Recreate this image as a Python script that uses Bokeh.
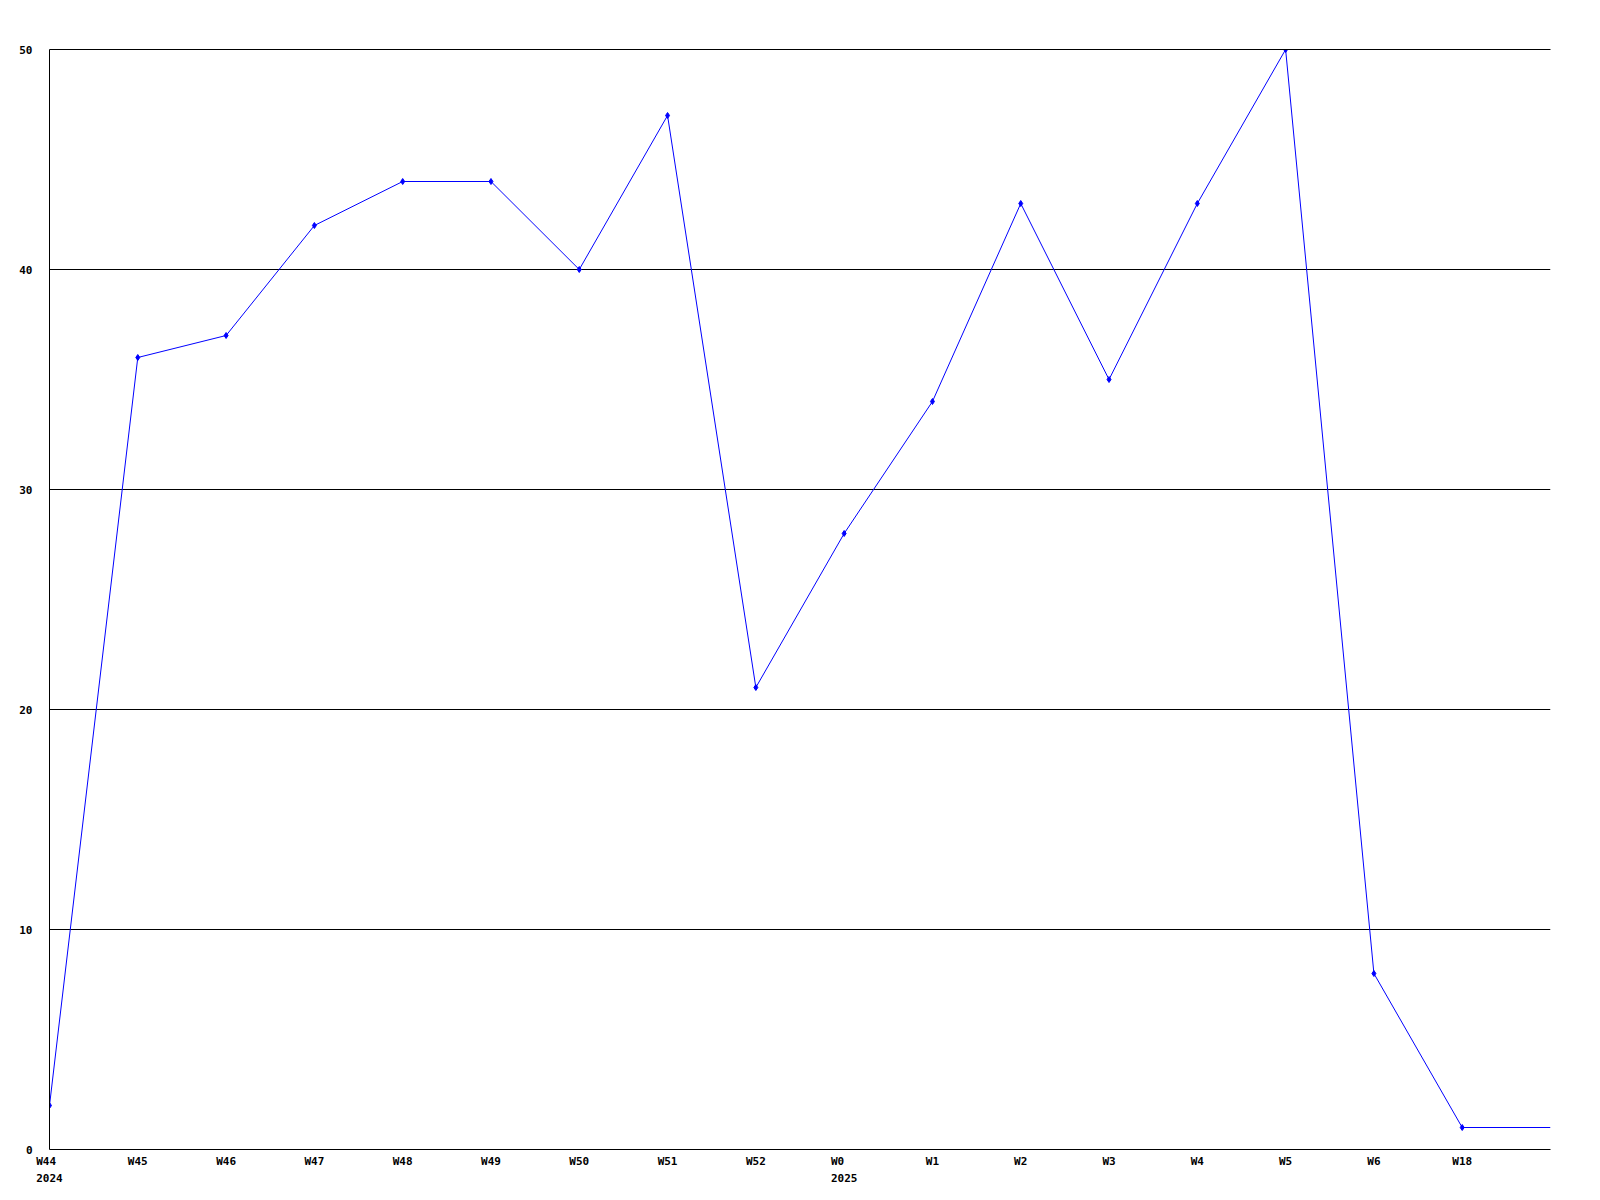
from bokeh.plotting import figure
from bokeh.models import Range1d, FixedTicker, LinearAxis
from bokeh.embed import file_html
from bokeh.resources import INLINE

weeks = ["W44", "W45", "W46", "W47", "W48", "W49", "W50", "W51", "W52",
         "W0", "W1", "W2", "W3", "W4", "W5", "W6", "W18"]
years = ["2024", "", "", "", "", "", "", "", "", "2025", "", "", "", "", "", "", ""]
values = [2, 36, 37, 42, 44, 44, 40, 47, 21, 28, 34, 43, 35, 43, 50, 8, 1]
tail_value = 1
y_ticks = [0, 10, 20, 30, 40, 50]

FONT = "DejaVu Sans Mono"

xs = list(range(len(weeks)))
n = len(weeks)
FRAME_W = 1501

p = figure(width=1591, height=1192, frame_width=FRAME_W, frame_height=1100,
           min_border_left=49, min_border_top=49, min_border_right=41, min_border_bottom=40,
           x_range=Range1d(0, n), y_range=Range1d(0, 50),
           x_axis_location=None,
           output_backend="svg", toolbar_location=None)
p.outline_line_color = None
p.background_fill_color = "white"
p.border_fill_color = "white"

p.xgrid.visible = False
p.ygrid.ticker = FixedTicker(ticks=y_ticks)
p.ygrid.grid_line_color = "black"
p.ygrid.grid_line_width = 1

overrides = {}
for x, w, yr in zip(xs, weeks, years):
    if yr:
        width = max(len(w), len(yr))
        overrides[x] = w.ljust(width) + "\n" + yr.ljust(width)
    else:
        overrides[x] = w

xa = LinearAxis(ticker=FixedTicker(ticks=xs),
                major_label_overrides=overrides,
                axis_line_color="black", major_tick_line_color=None,
                minor_tick_line_color=None, major_tick_out=0,
                major_label_standoff=5,
                major_label_text_font=FONT, major_label_text_font_style="bold",
                major_label_text_font_size="11px", major_label_text_color="black",
                major_label_text_line_height=1.35)
p.add_layout(xa, "below")

top = LinearAxis(ticker=FixedTicker(ticks=[]), axis_line_color="black",
                 major_tick_line_color=None, minor_tick_line_color=None,
                 major_label_text_font_size="0px", major_tick_out=0,
                 major_label_standoff=0)
p.add_layout(top, "above")

p.yaxis.ticker = FixedTicker(ticks=y_ticks)
p.yaxis.axis_line_color = "black"
p.yaxis.major_tick_line_color = None
p.yaxis.minor_tick_line_color = None
p.yaxis.major_tick_out = 0
p.yaxis.major_label_standoff = 17
p.yaxis.major_label_text_font = FONT
p.yaxis.major_label_text_font_style = "bold"
p.yaxis.major_label_text_font_size = "11px"
p.yaxis.major_label_text_color = "black"

line_x = xs + [n]
line_y = values + [tail_value]
p.line(line_x, line_y, line_color="#0000ff", line_width=1)
p.scatter(xs, values, marker="diamond", size=6, color="#0000ff")

open("out.html", "w").write(file_html(p, INLINE))
